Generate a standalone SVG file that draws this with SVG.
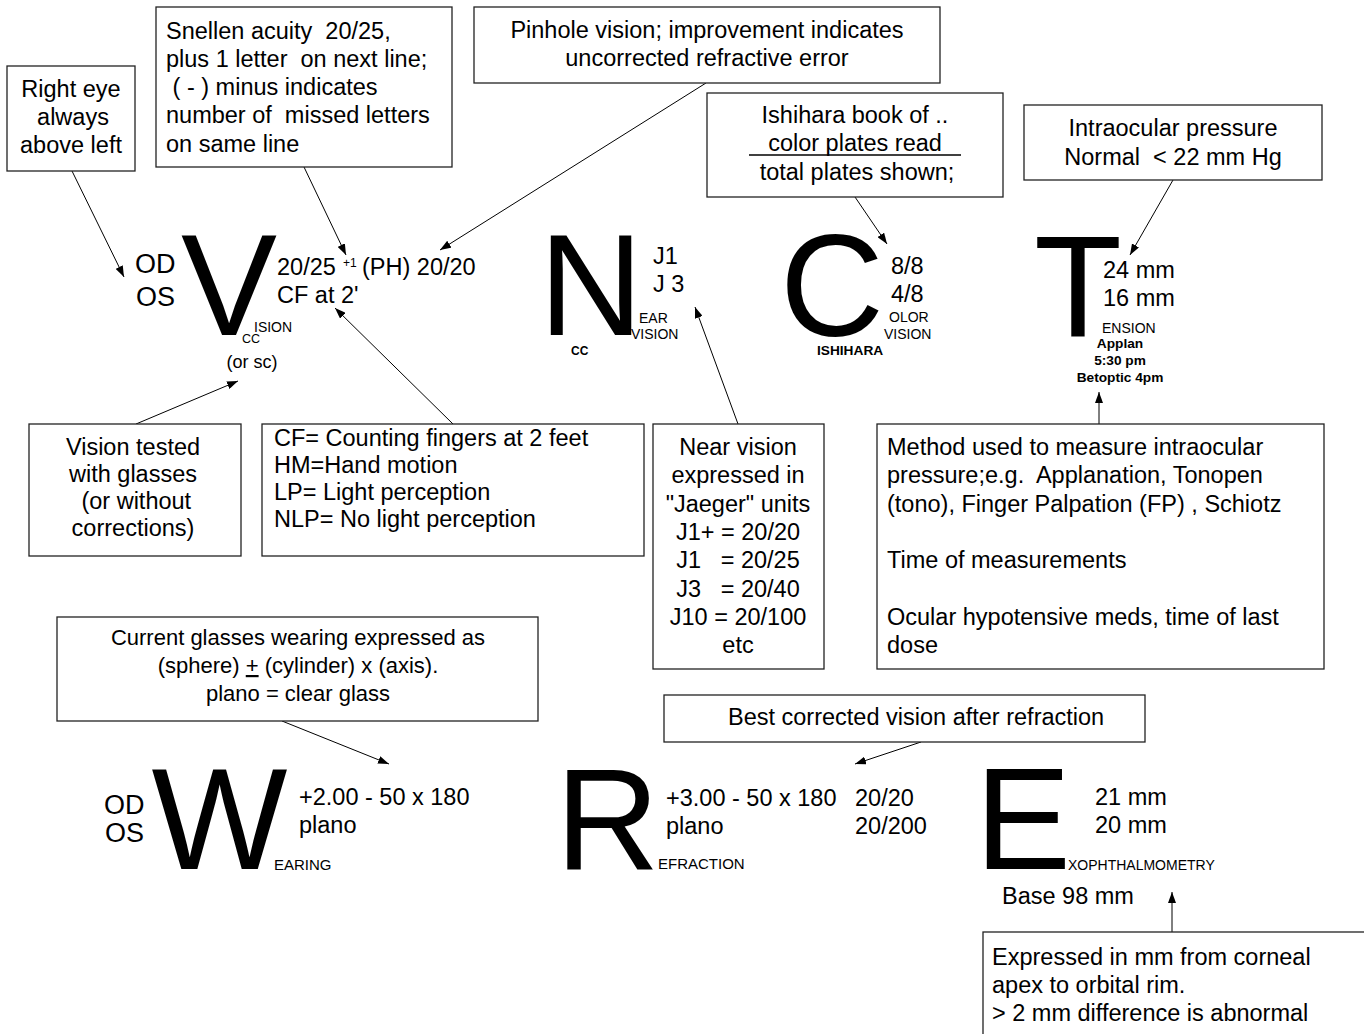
<svg xmlns="http://www.w3.org/2000/svg" width="1364" height="1034" viewBox="0 0 1364 1034" xml:space="preserve">
<style>
text{font-family:"Liberation Sans",Arial,sans-serif;fill:#000;white-space:pre}
.t{font-size:23.5px}
.tc{font-size:23.5px;text-anchor:middle}
.g{font-size:22px;text-anchor:middle}
.big{font-size:144px;text-anchor:middle}
.eye{font-size:27px}
.sub{font-size:14px}
.sub15{font-size:15px}
.b{font-size:13.7px;font-weight:bold}
.bc{font-size:13.7px;font-weight:bold;text-anchor:middle}
.box{fill:#fff;stroke:#222;stroke-width:1.3}
.con line{stroke:#000;stroke-width:1}
</style>
<defs>
<marker id="ah" markerUnits="userSpaceOnUse" markerWidth="11" markerHeight="8" refX="11" refY="4" orient="auto">
<path d="M0,0 L11,4 L0,8 z" fill="#000"/>
</marker>
</defs>
<rect width="1364" height="1034" fill="#fff"/>

<g id="connectors" class="con">
<line x1="72" y1="171" x2="124" y2="277" marker-end="url(#ah)"/>
<line x1="304" y1="167" x2="346" y2="255" marker-end="url(#ah)"/>
<line x1="706" y1="83" x2="440" y2="250" marker-end="url(#ah)"/>
<line x1="855" y1="197" x2="887" y2="244" marker-end="url(#ah)"/>
<line x1="1173" y1="180" x2="1130" y2="255" marker-end="url(#ah)"/>
<line x1="136" y1="424" x2="238" y2="381" marker-end="url(#ah)"/>
<line x1="453" y1="424" x2="335" y2="308" marker-end="url(#ah)"/>
<line x1="738" y1="424" x2="695" y2="307" marker-end="url(#ah)"/>
<line x1="1099" y1="424" x2="1099" y2="392" marker-end="url(#ah)"/>
<line x1="282" y1="721" x2="389" y2="764" marker-end="url(#ah)"/>
<line x1="921" y1="742" x2="855" y2="764" marker-end="url(#ah)"/>
<line x1="1172" y1="932" x2="1172" y2="892" marker-end="url(#ah)"/>
</g>

<g id="note-right-eye">
<rect class="box" x="7" y="66" width="128" height="105"/>
<text class="tc" x="71" y="97">Right eye</text>
<text class="tc" x="73" y="125">always</text>
<text class="tc" x="71" y="153">above left</text>
</g>

<g id="note-snellen">
<rect class="box" x="156" y="7" width="296" height="160"/>
<text class="t" x="166" y="39">Snellen acuity  20/25,</text>
<text class="t" x="166" y="67">plus 1 letter  on next line;</text>
<text class="t" x="166" y="95"> ( - ) minus indicates</text>
<text class="t" x="166" y="123">number of  missed letters</text>
<text class="t" x="166" y="152">on same line</text>
</g>

<g id="note-pinhole">
<rect class="box" x="474" y="7" width="466" height="76"/>
<text class="tc" x="707" y="38">Pinhole vision; improvement indicates</text>
<text class="tc" x="707" y="66">uncorrected refractive error</text>
</g>

<g id="note-ishihara">
<rect class="box" x="707" y="93" width="296" height="104"/>
<text class="tc" x="855" y="123">Ishihara book of ..</text>
<text class="tc" x="855" y="151">color plates read</text>
<line x1="749" y1="155" x2="961" y2="155" stroke="#000" stroke-width="1.5"/>
<text class="tc" x="857" y="180">total plates shown;</text>
</g>

<g id="note-iop">
<rect class="box" x="1024" y="105" width="298" height="75"/>
<text class="tc" x="1173" y="136">Intraocular pressure</text>
<text class="tc" x="1173" y="165">Normal  &lt; 22 mm Hg</text>
</g>

<g id="vision">
<text class="eye" x="135" y="273">OD</text>
<text class="eye" x="136" y="306">OS</text>
<text class="big" x="229" y="335">V</text>
<text class="t" x="277" y="275">20/25</text>
<text x="343" y="267" font-size="12">+1</text>
<text class="t" x="362" y="275">(PH) 20/20</text>
<text class="t" x="277" y="303">CF at 2'</text>
<text class="sub" x="254" y="332">ISION</text>
<text x="242" y="343" font-size="12.5">CC</text>
<text x="252" y="368" font-size="18" text-anchor="middle">(or sc)</text>
</g>

<g id="near">
<text class="big" x="591" y="335">N</text>
<text class="t" x="653" y="264">J1</text>
<text class="t" x="653" y="292">J 3</text>
<text class="sub" x="639" y="323">EAR</text>
<text class="sub" x="631" y="339">VISION</text>
<text x="571" y="355" font-size="12" font-weight="bold">CC</text>
</g>

<g id="color">
<text class="big" x="832" y="336">C</text>
<text class="t" x="891" y="274">8/8</text>
<text class="t" x="891" y="302">4/8</text>
<text class="sub" x="889" y="322">OLOR</text>
<text class="sub" x="884" y="339">VISION</text>
<text class="b" x="817" y="355">ISHIHARA</text>
</g>

<g id="tension">
<text class="big" x="1078" y="337">T</text>
<text class="t" x="1103" y="278">24 mm</text>
<text class="t" x="1103" y="306">16 mm</text>
<text class="sub" x="1102" y="333">ENSION</text>
<text class="bc" x="1120" y="348">Applan</text>
<text class="bc" x="1120" y="365">5:30 pm</text>
<text class="bc" x="1120" y="382">Betoptic 4pm</text>
</g>

<g id="note-vision-tested">
<rect class="box" x="29" y="424" width="212" height="132"/>
<text class="tc" x="133" y="455">Vision tested</text>
<text class="tc" x="133" y="482">with glasses</text>
<text class="tc" x="133" y="509"> (or without</text>
<text class="tc" x="133" y="536">corrections)</text>
</g>

<g id="note-cf">
<rect class="box" x="262" y="424" width="382" height="132"/>
<text class="t" x="274" y="446">CF= Counting fingers at 2 feet</text>
<text class="t" x="274" y="473">HM=Hand motion</text>
<text class="t" x="274" y="500">LP= Light perception</text>
<text class="t" x="274" y="527">NLP= No light perception</text>
</g>

<g id="note-near">
<rect class="box" x="653" y="424" width="171" height="245"/>
<text class="tc" x="738" y="455">Near vision</text>
<text class="tc" x="738" y="483">expressed in</text>
<text class="tc" x="738" y="512">"Jaeger" units</text>
<text class="tc" x="738" y="540">J1+ = 20/20</text>
<text class="tc" x="738" y="568">J1   = 20/25</text>
<text class="tc" x="738" y="597">J3   = 20/40</text>
<text class="tc" x="738" y="625">J10 = 20/100</text>
<text class="tc" x="738" y="653">etc</text>
</g>

<g id="note-method">
<rect class="box" x="877" y="424" width="447" height="245"/>
<text class="t" x="887" y="455">Method used to measure intraocular</text>
<text class="t" x="887" y="483">pressure;e.g.  Applanation, Tonopen</text>
<text class="t" x="887" y="512">(tono), Finger Palpation (FP) , Schiotz</text>
<text class="t" x="887" y="568">Time of measurements</text>
<text class="t" x="887" y="625">Ocular hypotensive meds, time of last</text>
<text class="t" x="887" y="653">dose</text>
</g>

<g id="note-wearing">
<rect class="box" x="57" y="617" width="481" height="104"/>
<text class="g" x="298" y="645">Current glasses wearing expressed as</text>
<text class="g" x="298" y="673">(sphere) <tspan style="text-decoration:underline">+</tspan> (cylinder) x (axis).</text>
<text class="g" x="298" y="701">plano = clear glass</text>
</g>

<g id="wearing">
<text class="eye" x="104" y="814">OD</text>
<text class="eye" x="105" y="842">OS</text>
<text class="big" x="219.5" y="869">W</text>
<text class="t" x="299" y="805">+2.00 - 50 x 180</text>
<text class="t" x="299" y="833">plano</text>
<text class="sub15" x="274" y="870">EARING</text>
</g>

<g id="note-best">
<rect class="box" x="664" y="695" width="481" height="47"/>
<text class="t" x="728" y="725">Best corrected vision after refraction</text>
</g>

<g id="refraction">
<text class="big" x="607.5" y="869">R</text>
<text class="t" x="666" y="806">+3.00 - 50 x 180</text>
<text class="t" x="855" y="806">20/20</text>
<text class="t" x="666" y="834">plano</text>
<text class="t" x="855" y="834">20/200</text>
<text class="sub15" x="658" y="869">EFRACTION</text>
</g>

<g id="exophthalmometry">
<text class="big" x="1023" y="869">E</text>
<text class="t" x="1095" y="805">21 mm</text>
<text class="t" x="1095" y="833">20 mm</text>
<text class="sub" x="1068" y="870">XOPHTHALMOMETRY</text>
<text class="t" x="1002" y="904">Base 98 mm</text>
</g>

<g id="note-expressed">
<rect class="box" x="983" y="932" width="400" height="120"/>
<text class="t" x="992" y="965">Expressed in mm from corneal</text>
<text class="t" x="992" y="993">apex to orbital rim.</text>
<text class="t" x="992" y="1021">&gt; 2 mm difference is abnormal</text>
</g>
</svg>
